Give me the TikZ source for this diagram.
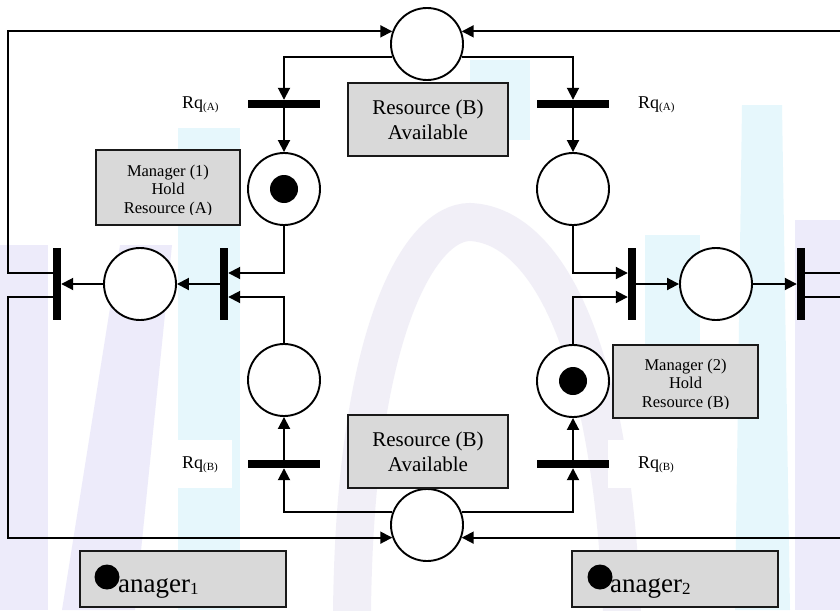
\documentclass[tikz,border=0pt]{standalone}
\usepackage{fontspec}
\setmainfont{Liberation Serif}
\usetikzlibrary{arrows.meta,calc}

\definecolor{boxgray}{HTML}{D9D9D9}
\definecolor{wmlav}{HTML}{DCD8F6}
\definecolor{wmcyan}{HTML}{CFF1FB}
\definecolor{wmpurple}{HTML}{D2CCE6}

\tikzset{
  place/.style={circle, draw, line width=1.9pt, fill=white, minimum size=72pt, inner sep=0pt},
  token/.style={circle, fill=black, minimum size=28pt, inner sep=0pt},
  hbar/.style={rectangle, fill=black, minimum width=72pt, minimum height=8pt, inner sep=0pt},
  vbar/.style={rectangle, fill=black, minimum width=8pt, minimum height=72pt, inner sep=0pt},
  wire/.style={line width=1.9pt},
  arc/.style={wire, -{Triangle[length=12pt,width=12pt]}},
  gbox/.style={rectangle, draw=black!90, line width=1.9pt, fill=boxgray, inner sep=0pt},
  bigtext/.style={align=center, font=\fontsize{21}{25}\selectfont},
  smalltext/.style={align=center, font=\fontsize{16.5}{18.5}\selectfont},
  lbl/.style={anchor=base west, inner sep=0pt},
  wm/.style={opacity=0.5}
}

\newcommand{\rqlabel}[1]{\fontsize{18}{18}\selectfont Rq\raisebox{-2pt}{\fontsize{11}{11}\selectfont(#1)}}
\newcommand{\mgrlabel}[1]{\fontsize{27}{27}\selectfont anager\raisebox{-2pt}{\fontsize{17}{17}\selectfont #1}}

\begin{document}
\begin{tikzpicture}[x=1pt,y=-1pt]
\useasboundingbox (0,0) rectangle (840,610);
\fill[white] (0,0) rectangle (840,610);

% faint background logo
\begin{scope}[wm]
  \fill[wmlav] (0,245) rectangle (48,610);
  \fill[wmlav] (62,610) -- (120,245) -- (172,245) -- (135,610) -- cycle;
  \fill[wmcyan] (178,128) rectangle (240,610);
  \draw[wmpurple, line width=38pt, opacity=0.3] (352,612) .. controls (355,330) and (420,222) .. (470,222)
        .. controls (540,225) and (610,330) .. (622,612);
  \fill[wmcyan] (470,60) rectangle (530,140);
  \fill[wmcyan] (645,235) rectangle (700,395);
  \fill[wmcyan] (742,105) -- (782,105) -- (790,610) -- (735,610) -- cycle;
  \fill[wmlav] (795,220) rectangle (840,610);
\end{scope}
\fill[white] (152,440) rectangle (232,488);
\fill[white] (608,440) rectangle (703,488);

% shared resource places
\node[place] (pTop) at (427,44) {};
\node[place] (pBot) at (427,525) {};

% manager 1 side
\node[place] (pL1) at (284,189) {};
\node[place] (pL2) at (284,380) {};
\node[place] (pLm) at (140,284) {};
\node[hbar] (tL1) at (284,104) {};
\node[hbar] (tL2) at (284,464) {};
\node[vbar] (tLm) at (224,284) {};
\node[vbar] (tLo) at (57,284) {};

% manager 2 side
\node[place] (pR1) at (573,189) {};
\node[place] (pR2) at (573,381) {};
\node[place] (pRm) at (716,284) {};
\node[hbar] (tR1) at (573,104) {};
\node[hbar] (tR2) at (573,464) {};
\node[vbar] (tRm) at (632,284) {};
\node[vbar] (tRo) at (801,284) {};

% tokens
\node[token] (k1) at (pL1) {};
\node[token] (k2) at (pR2) {};

% edge helpers
\coordinate (wL) at (8,0);
\coordinate (wR) at (845,0);

% arcs, left half
\draw[arc] (pTop.200) -| (tL1.north);
\draw[arc] (tL1.south) -- (pL1.north);
\draw[arc] (pL1.south) |- ($(tLm.east)+(0,-11)$);
\draw[arc] (pL2.north) |- ($(tLm.east)+(0,13)$);
\draw[arc] (tLm.west) -- (pLm.east);
\draw[arc] (pLm.west) -- (tLo.east);
\draw[arc] ($(tLo.west)+(0,-11)$) -| (wL |- pTop.160) -- (pTop.160);
\draw[arc] ($(tLo.west)+(0,13)$) -| (wL |- pBot.200) -- (pBot.200);
\draw[arc] (pBot.160) -| (tL2.south);
\draw[arc] (tL2.north) -- (pL2.south);

% arcs, right half
\draw[arc] (pTop.340) -| (tR1.north);
\draw[arc] (tR1.south) -- (pR1.north);
\draw[arc] (pR1.south) |- ($(tRm.west)+(0,-11)$);
\draw[arc] (pR2.north) |- ($(tRm.west)+(0,13)$);
\draw[arc] (tRm.east) -- (pRm.west);
\draw[arc] (pRm.east) -- (tRo.west);
\draw[wire] ($(tRo.east)+(0,-11)$) -- (wR |- {$(tRo.east)+(0,-11)$});
\draw[wire] ($(tRo.east)+(0,13)$) -- (wR |- {$(tRo.east)+(0,13)$});
\draw[arc] (wR |- pTop.20) -- (pTop.20);
\draw[arc] (wR |- pBot.340) -- (pBot.340);
\draw[arc] (pBot.20) -| (tR2.south);
\draw[arc] (tR2.north) -- (pR2.south);

% resource captions
\node[gbox, bigtext, minimum width=160pt, minimum height=73pt] (capTop) at (428,119.5) {Resource (B)\\Available};
\node[gbox, bigtext, minimum width=160pt, minimum height=73pt] (capBot) at (428,451.5) {Resource (B)\\Available};

% holding captions (text clipped by the box margin)
\node[gbox, minimum width=144pt, minimum height=75pt] (hold1) at (168,187.5) {};
\begin{scope}
  \clip (96,150) rectangle (240,214.5);
  \node[smalltext] (hold1txt) at (168,191) {Manager (1)\\Hold\\Resource (A)};
\end{scope}
\node[gbox, minimum width=145pt, minimum height=73pt] (hold2) at (685.5,381.5) {};
\begin{scope}
  \clip (613,345) rectangle (758,408.5);
  \node[smalltext] (hold2txt) at (685.5,385) {Manager (2)\\Hold\\Resource (B)};
\end{scope}

% request labels
\node[lbl] (rqA1) at (182,108) {\rqlabel{A}};
\node[lbl] (rqA2) at (638,108) {\rqlabel{A}};
\node[lbl] (rqB1) at (182,468) {\rqlabel{B}};
\node[lbl] (rqB2) at (638,468) {\rqlabel{B}};

% manager captions
\node[gbox, minimum width=206pt, minimum height=56pt] (mgr1) at (183,579) {};
\node[lbl] (mgr1txt) at (118,592) {\mgrlabel{1}};
\node[token, minimum size=25pt] (dot1) at (107,577) {};
\node[gbox, minimum width=206pt, minimum height=56pt] (mgr2) at (675,579) {};
\node[lbl] (mgr2txt) at (610,592) {\mgrlabel{2}};
\node[token, minimum size=25pt] (dot2) at (600,577) {};
\end{tikzpicture}
\end{document}
